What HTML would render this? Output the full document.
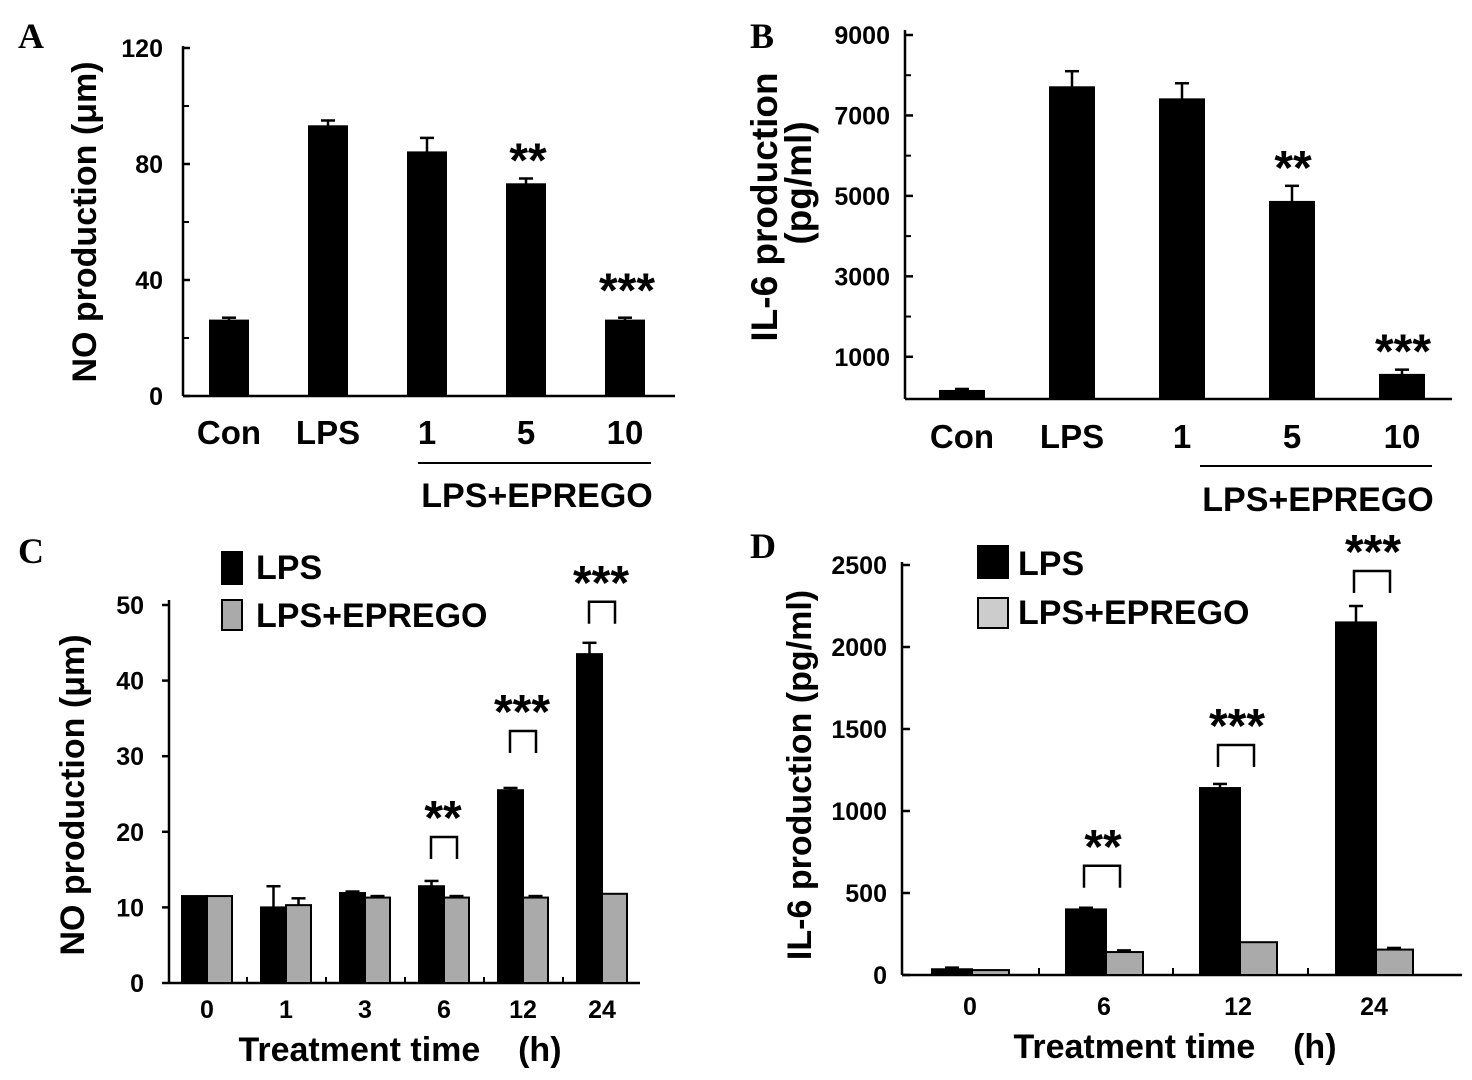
<!DOCTYPE html>
<html><head><meta charset="utf-8"><style>
body{margin:0;background:#fff}
svg{display:block;font-family:"Liberation Sans",Arial,sans-serif;font-weight:bold}
text{white-space:pre}
</style></head><body>
<svg id="s" width="1472" height="1080"></svg>
<script>
// Panel A data
const aCats=["Con","LPS","1","5","10"];
const aVals=[26,93,84,73,26];
const aErr=[27,95,89,75,27];
const aTicks=[0,40,80,120];
const aSig=["","","","**","***"];
// Panel B data
const bCats=["Con","LPS","1","5","10"];
const bVals=[150,7700,7400,4850,550];
const bErr=[200,8100,7800,5250,680];
const bTicks=[1000,3000,5000,7000,9000];
const bSig=["","","","**","***"];
// Panel C data
const cCats=["0","1","3","6","12","24"];
const cLps=[11.5,10,11.9,12.8,25.5,43.5];
const cLpsErr=[11.5,12.8,12.1,13.5,25.8,45];
const cEp=[11.5,10.3,11.3,11.3,11.3,11.8];
const cEpErr=[11.5,11.2,11.5,11.5,11.5,11.8];
const cTicks=[0,10,20,30,40,50];
const cSig=["","","","**","***","***"];
// Panel D data
const dCats=["0","6","12","24"];
const dLps=[35,400,1140,2150];
const dLpsErr=[45,410,1165,2250];
const dEp=[30,140,200,155];
const dEpErr=[30,150,200,165];
const dTicks=[0,500,1000,1500,2000,2500];
const dSig=["","**","***","***"];

const S=document.getElementById('s');const NS="http://www.w3.org/2000/svg";
function el(t,a,txt){const e=document.createElementNS(NS,t);for(const k in a)e.setAttribute(k,a[k]);if(txt!==undefined)e.textContent=txt;S.appendChild(e);return e;}
function line(x1,y1,x2,y2,w,name){const e=el('line',{x1,y1,x2,y2,stroke:'#000','stroke-width':w||2.5});

return e;}
function text(x,y,s,size,name,anchor,extra){const e=el('text',Object.assign({x,y,'font-size':size,'text-anchor':anchor||'middle'},extra||{}),s);

return e;}
function rect(x,y,w,h,fill,name){const e=el('rect',{x,y,width:w,height:h,fill,stroke:'#000','stroke-width':2});

return e;}
function errbar(cx,y1,y2,name){if(y2>=y1-1)return;line(cx,y1,cx,y2,2.5,name);line(cx-7,y2,cx+7,y2,2.5,name);}
function bracket(x1,x2,yTop,yBot){const e=el('path',{d:`M${x1},${yBot}V${yTop}H${x2}V${yBot}`,fill:'none',stroke:'#000','stroke-width':2.5});

}
const STAR=48,TICK=25,CAT=33,TITLE=34,LET=36;

// Panel letters
text(18,48,"A",LET,"panel-label-a","start",{'font-family':'Liberation Serif'});
text(750,48,"B",LET,"panel-label-b","start",{'font-family':'Liberation Serif'});
text(18,563,"C",LET,"panel-label-c","start",{'font-family':'Liberation Serif'});
text(750,558,"D",LET,"panel-label-d","start",{'font-family':'Liberation Serif'});

// ---- Panel A
(function(){const x0=183,y0=396,yT=48,max=120;const y=v=>y0-(v/max)*(y0-yT);
const cx=i=>229+i*99;const bw=38;
line(x0,46,x0,y0);line(x0,y0,675,y0);
aTicks.forEach(t=>{line(x0,y(t),x0+7,y(t),2.5,'y-tick');text(x0-20,y(t)+9,t,TICK,'y-tick-label','end');});
[20,60,100].forEach(t=>line(x0,y(t),x0+6,y(t),2,'y-minor-tick'));
aCats.forEach((c,i)=>{errbar(cx(i),y(aVals[i]),y(aErr[i]),'error-bar');rect(cx(i)-bw/2,y(aVals[i]),bw,y0-y(aVals[i]),'#000','bar-'+c);
text(cx(i),444,c,CAT,'x-tick-label');if(aSig[i])text(cx(i)+2,y(aErr[i])+(i==4?-11:-2),aSig[i],STAR,'significance-mark');});
line(418,463,651,463,2,'group-line');text(537,507,"LPS+EPREGO",TITLE,'group-label');
text(0,0,"NO production (μm)",TITLE,'y-axis-title','middle',{transform:'translate(96,222) rotate(-90)'});
})();
// ---- Panel B
(function(){const x0=905,y0=397,max=9000,yT=35;const y=v=>y0-(v/max)*(y0-yT);
const cx=i=>962+i*110;const bw=44;
line(x0,30,x0,y0+2);line(x0,y0+2,1452,y0+2);
bTicks.forEach(t=>{line(x0,y(t),x0+8,y(t),2.5,'y-tick');text(x0-15,y(t)+9,t,TICK,'y-tick-label','end');});
[2000,4000,6000,8000].forEach(t=>line(x0,y(t),x0+6,y(t),2,'y-minor-tick'));
bCats.forEach((c,i)=>{errbar(cx(i),y(bVals[i]),y(bErr[i]),'error-bar');rect(cx(i)-bw/2,y(bVals[i]),bw,y0+2-y(bVals[i]),'#000','bar-'+c);
text(cx(i),448,c,CAT,'x-tick-label');if(bSig[i])text(cx(i)+1,y(bErr[i])-2,bSig[i],STAR,'significance-mark');});
line(1200,466,1432,466,2,'group-line');text(1318,511,"LPS+EPREGO",TITLE,'group-label');
text(0,0,"IL-6 production",37,'y-axis-title','middle',{transform:'translate(777,207) rotate(-90)'});
text(0,0,"(pg/ml)",37,'y-axis-title','middle',{transform:'translate(811,183) rotate(-90)'});
})();
// ---- Panel C
(function(){const x0=169,y0=983,max=50,yT=605;const y=v=>y0-(v/max)*(y0-yT);
const cx=i=>207+i*79;const bw=25;const gap=[0,0,0,22,35,19];
line(x0,600,x0,y0);line(x0,y0,640,y0);
cTicks.forEach(t=>{line(x0-7,y(t),x0,y(t),2.5,'y-tick');text(x0-25,y(t)+9,t,TICK,'y-tick-label','end');});
cCats.forEach((c,i)=>{if(i>0)line(cx(i)-39,y0,cx(i)-39,y0-6,2,'x-tick');
errbar(cx(i)-bw/2,y(cLps[i]),y(cLpsErr[i]),'error-bar');errbar(cx(i)+bw/2,y(cEp[i]),y(cEpErr[i]),'error-bar');
rect(cx(i)-bw,y(cLps[i]),bw,y0-y(cLps[i]),'#000','bar-lps-'+c+'h');rect(cx(i),y(cEp[i]),bw,y0-y(cEp[i]),'#aaa','bar-eprego-'+c+'h');
text(cx(i),1018,c,TICK,'x-tick-label');
if(cSig[i]){const bot=y(cLpsErr[i])-gap[i];bracket(cx(i)-13,cx(i)+13,bot-22,bot);text(cx(i)-1,bot-25,cSig[i],STAR,'significance-mark');}});
text(400,1061,"Treatment time    (h)",TITLE,'x-axis-title');
text(0,0,"NO production (μm)",TITLE,'y-axis-title','middle',{transform:'translate(84,795) rotate(-90)'});
rect(222,552,20,32,'#000','legend-swatch-lps');text(256,579,"LPS",TITLE,'legend-label-lps','start');
rect(222,600,20,30,'#aaa','legend-swatch-eprego');text(256,627,"LPS+EPREGO",TITLE,'legend-label-eprego','start');
})();
// ---- Panel D
(function(){const x0=902,y0=975,max=2500,yT=565;const y=v=>y0-(v/max)*(y0-yT);
const cx=i=>[972,1106,1240,1376][i];const bw=40;const gap=[0,20,17,13];
line(x0,562,x0,y0);line(x0,y0,1462,y0);
dTicks.forEach(t=>{line(x0,y(t),x0+8,y(t),2.5,'y-tick');text(x0-15,y(t)+9,t,TICK,'y-tick-label','end');});
[1039,1173,1308].forEach(x=>line(x,y0,x,y0-7,2,'x-tick'));
dCats.forEach((c,i)=>{errbar(cx(i)-bw/2,y(dLps[i]),y(dLpsErr[i]),'error-bar');errbar(cx(i)+18,y(dEp[i]),y(dEpErr[i]),'error-bar');
rect(cx(i)-bw,y(dLps[i]),bw,y0-y(dLps[i]),'#000','bar-lps-'+c+'h');rect(cx(i),y(dEp[i]),37,y0-y(dEp[i]),'#aaa','bar-eprego-'+c+'h');
text(cx(i)-2,1015,c,TICK,'x-tick-label');
if(dSig[i]){const bot=y(dLpsErr[i])-gap[i];bracket(cx(i)-22,cx(i)+14,bot-22,bot);text(cx(i)-3,bot-25,dSig[i],STAR,'significance-mark');}});
text(1175,1058,"Treatment time    (h)",TITLE,'x-axis-title');
text(0,0,"IL-6 production (pg/ml)",TITLE,'y-axis-title','middle',{transform:'translate(811,775) rotate(-90)'});
rect(978,546,30,32,'#000','legend-swatch-lps');text(1018,575,"LPS",TITLE,'legend-label-lps','start');
rect(978,598,30,30,'#ccc','legend-swatch-eprego');text(1018,624,"LPS+EPREGO",TITLE,'legend-label-eprego','start');
})();
</script>
</body></html>
